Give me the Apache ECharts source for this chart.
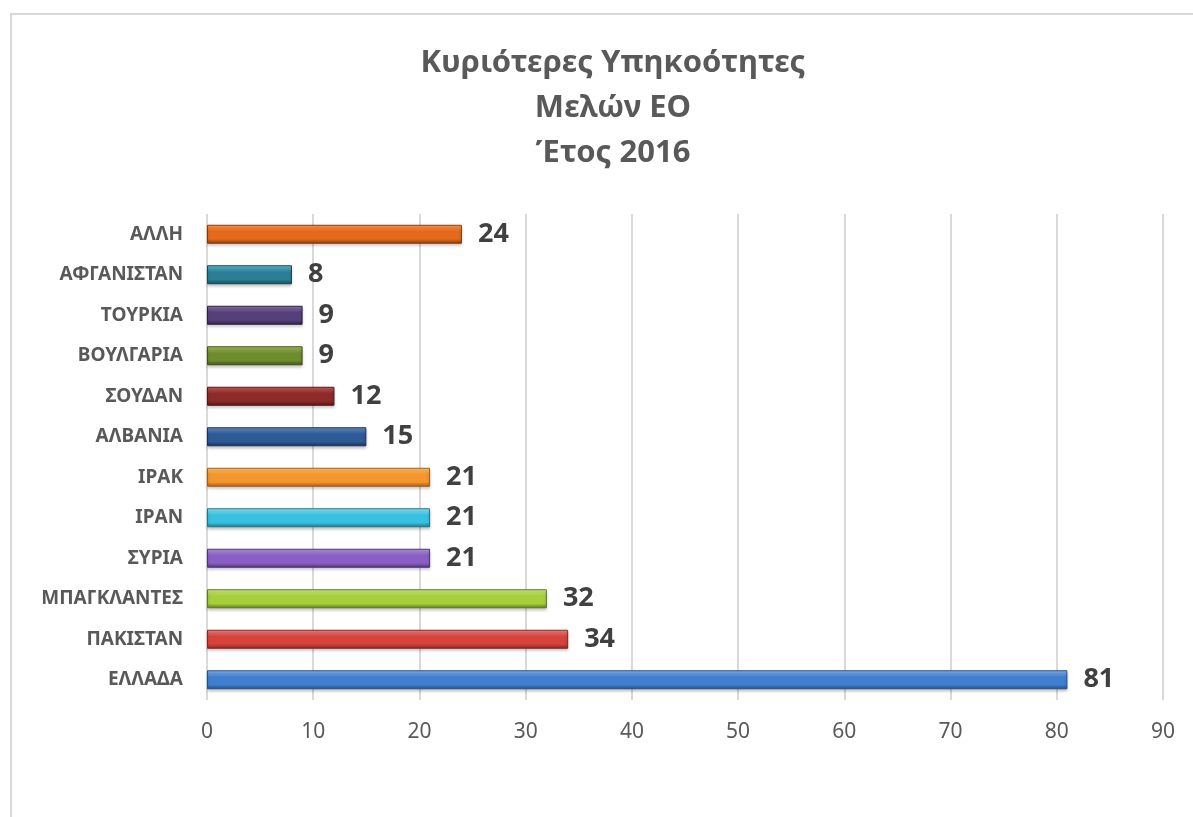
<!DOCTYPE html>
<html>
<head>
<meta charset="utf-8">
<script src="https://cdn.jsdelivr.net/npm/echarts@6/dist/echarts.min.js"></script>
<style>
  html, body { margin: 0; padding: 0; background: #fff; }
  #chart { width: 1193px; height: 817px; }
</style>
</head>
<body>
<div id="chart"></div>
<script>
// data, bottom category first
const categories = ['ΕΛΛΑΔΑ', 'ΠΑΚΙΣΤΑΝ', 'ΜΠΑΓΚΛΑΝΤΕΣ', 'ΣΥΡΙΑ', 'ΙΡΑΝ', 'ΙΡΑΚ', 'ΑΛΒΑΝΙΑ', 'ΣΟΥΔΑΝ', 'ΒΟΥΛΓΑΡΙΑ', 'ΤΟΥΡΚΙΑ', 'ΑΦΓΑΝΙΣΤΑΝ', 'ΑΛΛΗ']
const values = [81, 34, 32, 21, 21, 21, 15, 12, 9, 9, 8, 24]
const xTicks = [0, 10, 20, 30, 40, 50, 60, 70, 80, 90]

// bar colours [light, base, dark]
const barColors = [
  ['#8fb8ef', '#3f7fd0', '#24508c'],
  ['#f08c88', '#d8423d', '#8c2421'],
  ['#d6f08a', '#a6cf3a', '#5f7a1c'],
  ['#b89de0', '#8a5fc4', '#4f3378'],
  ['#9ee9f8', '#36c1e0', '#1c7890'],
  ['#ffc980', '#f5962c', '#a85e10'],
  ['#6f96cc', '#2e5a98', '#18335c'],
  ['#c46664', '#8e2a28', '#551614'],
  ['#a8c868', '#6e8c2e', '#3e5418'],
  ['#8e78b0', '#56407a', '#2e2048'],
  ['#6cc0d6', '#2a7f96', '#144a5a'],
  ['#ffa160', '#e5691a', '#8a3a08'],
]

const font = 'Noto Sans'
const chart = echarts.init(document.getElementById('chart'))

chart.setOption({
  animation: false,
  graphic: [{
    type: 'rect',
    shape: { x: 11, y: 14, width: 1400, height: 1000 },
    style: { fill: 'none', stroke: '#d9d9d9', lineWidth: 2 },
    silent: true,
  }],
  title: {
    text: 'Κυριότερες Υπηκοότητες\nΜελών ΕΟ\nΈτος 2016',
    left: 608,
    textAlign: 'center',
    top: 36,
    textStyle: {
      fontFamily: font,
      fontSize: 31,
      fontWeight: 'bold',
      color: '#595959',
      lineHeight: 45,
    },
  },
  grid: { left: 207, right: 30, top: 214, bottom: 117, containLabel: false },
  xAxis: {
    type: 'value',
    min: xTicks[0],
    max: xTicks[xTicks.length - 1],
    interval: 10,
    axisLine: { show: false },
    axisTick: { show: false },
    axisLabel: { color: '#595959', fontSize: 21, fontFamily: font, margin: 22 },
    splitLine: { lineStyle: { color: '#d9d9d9', width: 2 } },
  },
  yAxis: {
    type: 'category',
    data: categories,
    axisLine: { show: false },
    axisTick: { show: false },
    axisLabel: { color: '#595959', fontSize: 19, fontWeight: 'bold', fontFamily: font, margin: 24 },
  },
  series: [{
    type: 'bar',
    barWidth: 19,
    data: values.map((v, i) => ({
      value: v,
      itemStyle: {
        color: new echarts.graphic.LinearGradient(0, 0, 0, 1, [
          { offset: 0, color: barColors[i][0] },
          { offset: 0.35, color: barColors[i][1] },
          { offset: 0.75, color: barColors[i][1] },
          { offset: 1, color: barColors[i][2] },
        ]),
        borderColor: barColors[i][2],
        borderWidth: 1,
        shadowColor: 'rgba(0,0,0,0.25)',
        shadowBlur: 3,
        shadowOffsetY: 2,
      },
    })),
    label: {
      show: true,
      position: 'right',
      distance: 16,
      color: '#404040',
      fontSize: 27,
      fontWeight: 'bold',
      fontFamily: font,
    },
  }],
})
</script>
</body>
</html>
